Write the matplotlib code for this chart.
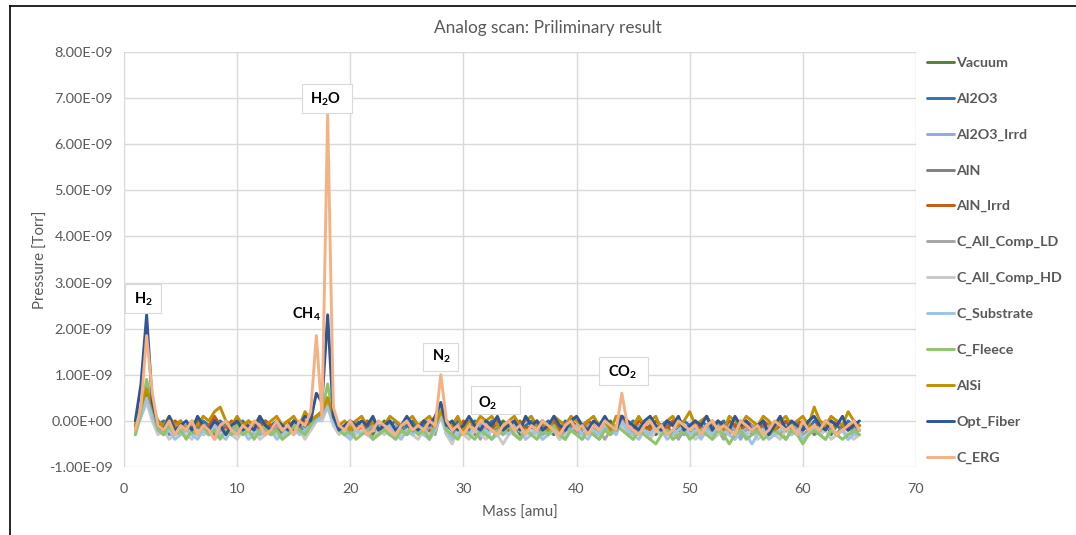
import matplotlib
matplotlib.use("Agg")
import matplotlib.pyplot as plt
from matplotlib.lines import Line2D
from matplotlib.patches import Rectangle
import numpy as np

plt.rcParams['font.family'] = ['Lato', 'DejaVu Sans']
plt.rcParams['mathtext.fontset'] = 'custom'
plt.rcParams['mathtext.rm'] = 'Lato'
plt.rcParams['mathtext.bf'] = 'Lato:bold'

# ---------------- data (pressure in units of 1e-10 Torr) ----------------
mass = [1 + 0.5 * i for i in range(129)]   # 1 .. 65 amu, 0.5 amu steps

vacuum = [-2, 2, 6, 2, -1, -2, -1, -2, -3, -1,
          -2, -1, -3, -2, 0, -2, -1, -3, -2, -1,
          -2, -3, -1, 0, -2, -1, -3, -2, -1, -2,
          -1, 0, 1, 2, 5, 1, -1, -2, -3, -1,
          -2, -1, -3, -2, 0, -1, -2, -3, -1, -2,
          -1, -3, -2, 0, 3, -1, -2, -1, -3, -2,
          -1, -2, -3, -1, -2, 0, -1, -2, -3, -1,
          -2, -1, 0, -2, -3, -1, -2, -1, -3, -2,
          -1, -2, -3, -1, 0, -2, 1, -1, -2, -3,
          -2, -1, -3, -2, -1, 0, -2, -3, -1, -2,
          -1, -3, -2, -1, -2, 0, -1, -3, -2, -1,
          -2, -1, -3, -2, 0, -1, -2, -3, -1, -2,
          -1, -2, 0, -3, -1, -2, -1, -2, -2]

al2o3 = [-1, 2, 5, 2, -1, 0, -2, -1, 0, -2,
         -1, -2, 0, -1, -2, 0, -1, -2, -1, 0,
         -2, -1, 0, -2, -1, 0, -1, -2, 0, -1,
         -2, 0, 1, 1, 4, 0, -1, -2, -1, 0,
         -1, -2, 0, -1, -2, -1, 0, -2, -1, 0,
         -2, -1, 0, -1, 3, -1, -2, 0, -1, -2,
         0, -1, -2, 0, -1, -2, -1, 0, -2, -1,
         0, -2, -1, 0, -1, -2, 0, -1, -2, -1,
         0, -1, -2, 0, -1, -2, 1, -1, 0, -2,
         -1, 0, -2, -1, 0, -1, -2, 0, -1, -2,
         0, -1, -2, -1, 0, -2, -1, 0, -1, -2,
         -1, 0, -2, -1, 0, -1, -2, 0, -1, -2,
         0, -1, -2, 0, -1, -2, 0, -1, -1]

al2o3_irrd = [-2, 1, 5, 1, -2, -3, -1, -2, -3, -1,
              -2, -3, -1, -2, -3, -2, -1, -3, -2, -1,
              -3, -2, -1, -2, -3, -1, -2, -3, -2, -1,
              -2, -1, 0, 1, 4, 0, -2, -1, -3, -2,
              -1, -3, -2, -1, -2, -3, -1, -2, -3, -2,
              -1, -2, -3, -1, 2, -2, -3, -1, -2, -3,
              -2, -1, -3, -2, -1, -3, -2, -1, -2, -3,
              -1, -2, -3, -2, -1, -2, -3, -1, -2, -3,
              -2, -1, -3, -2, -1, -2, 0, -3, -2, -1,
              -2, -3, -1, -2, -3, -2, -1, -3, -2, -1,
              -3, -2, -1, -2, -3, -1, -2, -4, -2, -1,
              -2, -3, -1, -2, -3, -2, -1, -3, -2, -1,
              -2, -3, -1, -2, -3, -2, -1, -3, -2]

aln = [-1, 2, 5, 2, -2, -1, -3, -2, -1, -2,
       -3, -1, -2, -1, -3, -2, -1, -2, -3, -1,
       -2, -1, -3, -2, -1, -2, -3, -1, -2, -1,
       -3, -1, 1, 1, 4, 0, -1, -3, -2, -1,
       -2, -3, -1, -2, -1, -3, -2, -1, -2, -3,
       -1, -2, -3, -2, 2, -3, -4, -1, -2, -1,
       -3, -2, -1, -2, -3, -1, -2, -3, -1, -2,
       -2, -3, -1, -2, -1, -3, -2, -1, -3, -2,
       -1, -2, -3, -1, -2, -1, 0, -2, -3, -1,
       -2, -3, -1, -2, -1, -3, -2, -1, -2, -3,
       -1, -2, -3, -1, -2, -3, -1, -2, -1, -3,
       -2, -1, -3, -2, -1, -2, -3, -1, -2, -1,
       -3, -2, -1, -2, -3, -1, -2, -1, -2]

aln_irrd = [-1, 2, 5, 2, 0, -1, -2, 0, -1, -2,
            -1, 0, -2, -1, 1, -1, -2, 0, -1, -2,
            0, -1, -2, 0, -1, -2, -1, 0, -2, -1,
            0, -1, 1, 2, 4, 1, -1, -2, 0, -1,
            -2, 0, -1, -2, -1, 0, -2, -1, 0, -2,
            -1, 0, -2, -1, 2, 0, -1, -2, 0, -1,
            -2, 0, -1, -2, 0, -1, -2, -1, 0, -2,
            -1, 0, -2, -1, 0, -2, -1, 0, -1, -2,
            0, -1, -2, 0, -1, -2, 1, -1, -2, 0,
            -1, -2, 0, -1, -2, 0, -1, -2, -1, 0,
            -2, -1, 0, -2, -1, 0, -1, -2, 0, -1,
            -2, 0, -1, -2, -1, 0, -2, -1, 0, -1,
            -2, 0, -1, -2, 0, -1, -2, 0, -1]

c_all_comp_ld = [-2, 1, 4, 1, -2, -3, -2, -1, -3, -2,
                 -1, -3, -2, -3, -1, -2, -3, -2, -1, -3,
                 -2, -1, -3, -2, -3, -1, -2, -3, -1, -2,
                 -3, -2, 0, 1, 4, 0, -2, -3, -1, -2,
                 -3, -2, -1, -3, -2, -3, -1, -2, -3, -1,
                 -2, -3, -1, -3, 2, -2, -4, -2, -1, -3,
                 -2, -4, -1, -2, -3, -2, -1, -3, -4, -2,
                 -3, -1, -2, -3, -2, -4, -1, -2, -3, -2,
                 -1, -3, -2, -4, -2, -1, 0, -2, -3, -1,
                 -2, -3, -2, -1, -3, -2, -4, -2, -1, -3,
                 -2, -1, -3, -2, -4, -1, -2, -3, -2, -1,
                 -3, -2, -1, -3, -2, -4, -2, -1, -3, -2,
                 -1, -3, -2, -1, -3, -2, -4, -2, -2]

c_all_comp_hd = [-3, 1, 4, 0, -3, -2, -4, -3, -2, -3,
                 -4, -2, -3, -2, -4, -3, -2, -3, -4, -2,
                 -3, -2, -4, -3, -2, -3, -4, -2, -3, -2,
                 -4, -2, 0, 0, 3, -1, -3, -2, -4, -3,
                 -2, -3, -4, -2, -3, -2, -4, -3, -2, -3,
                 -4, -2, -3, -2, 1, -3, -5, -2, -3, -4,
                 -2, -3, -4, -2, -3, -5, -3, -2, -4, -3,
                 -2, -3, -4, -3, -2, -4, -3, -2, -3, -4,
                 -2, -3, -4, -2, -3, -2, -1, -3, -4, -2,
                 -3, -4, -2, -3, -2, -4, -3, -2, -3, -4,
                 -3, -2, -4, -3, -2, -3, -4, -2, -3, -2,
                 -4, -3, -2, -3, -4, -2, -3, -2, -4, -3,
                 -1, -3, -2, -4, -3, -2, -3, -4, -3]

c_substrate = [-2, 1, 5, 1, -2, -3, -2, -4, -3, -2,
               -3, -4, -2, -3, -1, -3, -4, -2, -3, -2,
               -4, -3, -2, -3, -2, -4, -3, -2, -1, -3,
               -2, -1, 0, 1, 3, 0, -2, -3, -4, -2,
               -3, -2, -4, -3, -2, -1, -3, -4, -2, -3,
               -2, -3, -4, -2, 1, -2, -4, -3, -2, -3,
               -1, -3, -2, -4, -3, -2, -3, -1, -2, -4,
               -3, -2, -4, -3, -2, -3, -4, -2, -1, -3,
               -4, -2, -3, -1, -2, -3, 0, -2, -3, -4,
               -2, -3, -1, -2, -4, -3, -2, -1, -3, -2,
               -4, -2, -3, -1, -2, -3, -4, -2, -3, -5,
               -3, -2, -4, -3, -2, -1, -3, -2, -4, -3,
               -2, -3, -4, -2, -3, -2, -4, -3, -3]

c_fleece = [-3, 2, 9, 3, -2, -3, -1, -3, -2, -4,
            -2, -3, -1, -3, -2, -4, -2, -3, -1, -3,
            -2, -4, -2, -1, -3, -2, -4, -3, -1, -2,
            -3, -1, 1, 2, 8, 1, -2, -3, -2, -4,
            -3, -2, -4, -3, -2, -3, -4, -2, -3, -1,
            -3, -2, -4, -1, 3, -2, -3, -4, -2, -3,
            -4, -2, -3, -4, -2, -3, -1, -3, -4, -2,
            -3, -4, -2, -3, -1, -3, -4, -2, -3, -4,
            -2, -3, -4, -2, -3, -1, -2, -3, -4, -2,
            -3, -4, -5, -3, -2, -4, -3, -2, -4, -3,
            -2, -3, -4, -2, -3, -5, -3, -2, -4, -3,
            -2, -4, -3, -2, -3, -4, -2, -3, -5, -3,
            -2, -3, -4, -2, -3, -4, -3, -2, -3]

alsi = [-1, 3, 7, 3, 0, -1, 1, -1, 0, -2,
        0, -1, 1, 0, 2, 3, 0, -1, 1, -1,
        0, -1, 1, -1, 0, 1, -1, 0, 1, -1,
        2, 0, 1, 2, 5, 1, -1, 0, -2, 0,
        1, -1, 0, -2, -1, 1, 0, -1, 0, 1,
        -1, 0, 1, -1, 2, 0, -1, 1, -2, 0,
        -1, 1, 0, 1, -1, -2, 0, 1, -1, 0,
        1, -1, 0, -2, 1, 0, -1, 1, 0, -1,
        0, 1, -1, 0, -2, 1, 1, 0, -1, 1,
        -1, 0, 1, -2, 0, 1, -1, 0, 2, -1,
        0, 1, -1, 0, -2, 1, 0, -1, 1, 0,
        -1, 1, 0, -2, 0, 1, -1, 0, 1, -1,
        3, 0, -1, 1, 0, -1, 2, 0, -1]

opt_fiber = [0, 8, 23, 4, -1, -2, 1, -2, -1, 0,
             -2, 1, -1, -2, 0, -1, -3, -1, 0, -2,
             -1, -2, 1, -1, -2, 0, -1, -2, 0, -1,
             1, 0, 6, 4, 23, 1, -2, -1, 0, -1,
             0, -1, 1, -2, -1, 0, -2, -1, 1, -1,
             -2, 0, -1, 1, 4, -1, 0, -2, -1, 1,
             -1, -2, 0, -1, 1, -2, -1, 0, -2, 1,
             -1, 0, -2, -1, 1, -1, -2, 0, 1, -1,
             -2, 0, -1, 1, -1, -2, 1, 0, -1, -2,
             0, 1, -1, -2, 0, -1, 1, -2, -1, 0,
             -1, 1, -2, 0, -1, -2, 1, -1, 0, -2,
             -1, 0, -3, -1, 1, -2, 0, -1, -2, 0,
             1, -1, -2, 0, -1, 1, -2, -1, 0]

c_erg = [-2, 3, 18.5, 6, -1, -2, 0, -3, -1, -2,
         0, -3, -1, -2, -4, -1, 0, -2, -3, -1,
         -2, 0, -1, -3, -2, 0, -2, -1, -3, 0,
         -1, 2, 18.5, 1, 66.5, 3, -1, -2, 0, -2,
         -1, -3, -2, 0, -1, -2, -3, -1, 0, -2,
         -1, -2, 0, -1, 10, 0, -2, -1, -3, -1,
         -2, 0, -1, -2, -3, -1, 0, -2, -1, -3,
         -1, -2, 0, -1, -2, -3, -1, 0, -2, -1,
         -3, -1, -2, 0, -1, -2, 6, -1, -2, -3,
         -1, 0, -2, -1, -3, -2, 0, -1, -2, -1,
         -3, -1, 0, -2, -1, -2, -3, 0, -1, -2,
         -1, -3, -2, 0, -1, -2, -1, -3, 0, -2,
         -1, -2, 0, -1, -3, -2, -1, 0, -2]

series_names = ["Vacuum", "Al2O3", "Al2O3_Irrd", "AlN", "AlN_Irrd",
                "C_All_Comp_LD", "C_All_Comp_HD", "C_Substrate", "C_Fleece",
                "AlSi", "Opt_Fiber", "C_ERG"]
series_values = [vacuum, al2o3, al2o3_irrd, aln, aln_irrd, c_all_comp_ld,
                 c_all_comp_hd, c_substrate, c_fleece, alsi, opt_fiber, c_erg]
unit = 1e-10

# peak labels
peak_labels = [r"$\mathbf{H_2}$", r"$\mathbf{H_2O}$", r"$\mathbf{CH_4}$",
               r"$\mathbf{N_2}$", r"$\mathbf{O_2}$", r"$\mathbf{CO_2}$"]
peak_text_x = [1.68, 17.77, 16.09, 28.02, 32.17, 44.1]
peak_text_y = [2.64, 6.98, 2.32, 1.39, 0.39, 1.06]
peak_box = [(0.09, 3.27, 2.34, 2.97), (15.73, 20.15, 6.68, 7.31), None,
            (26.43, 29.52, 1.08, 1.69), (30.67, 35.0, 0.15, 0.76),
            (41.98, 46.31, 0.78, 1.39)]

colors = ["#548235", "#2E75B6", "#8FAADC", "#7F7F7F", "#C55A11", "#A5A5A5",
          "#C9C9C9", "#9DC3E6", "#8FC46A", "#BF9000", "#2F5597", "#F4B183"]

# ---------------- figure ----------------
fig = plt.figure(figsize=(10.76, 5.35), dpi=100)
ax = fig.add_axes([124 / 1076, 1 - 467 / 535, (916 - 124) / 1076, (467 - 52) / 535])

for name, vals, c in zip(series_names, series_values, colors):
    ax.plot(mass, np.array(vals, dtype=float) * unit, color=c, lw=2.1,
            label=name, solid_joinstyle='round', solid_capstyle='round')

ax.set_xlim(0, 70)
ax.set_ylim(-1e-9, 8e-9)
ax.set_xticks(range(0, 71, 10))
ax.set_yticks(np.arange(-1, 9) * 1e-9)
ax.set_yticklabels([f"{v:.2E}" for v in np.arange(-1, 9) * 1e-9])
ax.grid(True, color="#D9D9D9", lw=1.0)
ax.set_axisbelow(True)
for s in ax.spines.values():
    s.set_visible(False)
ax.tick_params(length=0, labelsize=10.4, labelcolor="#595959")
ax.tick_params(axis='y', pad=8)
ax.tick_params(axis='x', pad=11.5)
ax.set_xlabel("Mass [amu]", fontsize=10.8, color="#595959", labelpad=8)
ax.set_ylabel("Pressure [Torr]", fontsize=10.8, color="#595959", labelpad=1)

for lab, tx, ty, bx in zip(peak_labels, peak_text_x, peak_text_y, peak_box):
    if bx is not None:
        x0, x1, y0, y1 = bx
        ax.add_patch(Rectangle((x0, y0 * 1e-9), x1 - x0, (y1 - y0) * 1e-9,
                               facecolor="white", edgecolor="#D9D9D9",
                               lw=0.8, zorder=5))
    ax.text(tx, ty * 1e-9, lab, ha="center", va="center", fontsize=10.5,
            color="black", zorder=6)

fig.text(548 / 1076, 1 - 28 / 535, "Analog scan: Priliminary result",
         ha="center", va="center", fontsize=12.4, color="#595959")

leg = fig.legend(loc="upper left", bbox_to_anchor=(927 / 1076, 1 - 57 / 535),
                 frameon=False, handlelength=1.9, handletextpad=0.15,
                 labelspacing=1.66, borderaxespad=0, borderpad=0,
                 prop={"weight": "bold", "size": 10.3})
for t in leg.get_texts():
    t.set_color("#595959")

# outer chart frame (left and top edges visible)
fig.add_artist(Line2D([9.5 / 1076, 9.5 / 1076], [0, 1 - 6 / 535], color="black", lw=1.2))
fig.add_artist(Line2D([9.5 / 1076, 1], [1 - 6 / 535, 1 - 6 / 535], color="black", lw=1.2))

fig.savefig("out.png", dpi=100)
